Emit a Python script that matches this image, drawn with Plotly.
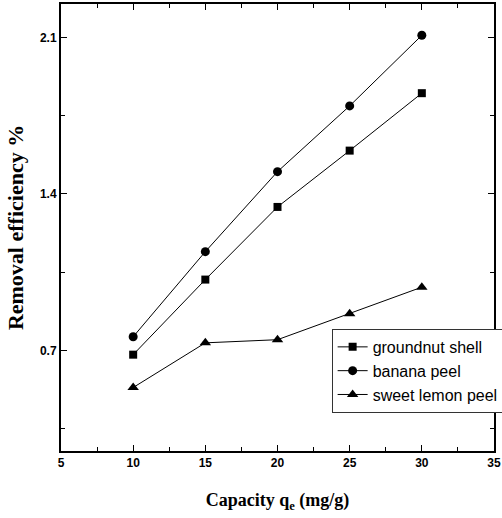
import plotly.graph_objects as go

# Capacity values (mg/g)
capacity = [10, 15, 20, 25, 30]

# Removal efficiency (%) for each adsorbent
groundnut_shell = [0.681, 1.017, 1.342, 1.594, 1.851]
banana_peel = [0.761, 1.142, 1.500, 1.794, 2.110]
sweet_lemon_peel = [0.534, 0.734, 0.748, 0.864, 0.983]

x_ticks = [5, 10, 15, 20, 25, 30, 35]
y_ticks = [0.7, 1.4, 2.1]

series = [
    ("groundnut shell", groundnut_shell, "square", 8),
    ("banana peel", banana_peel, "circle", 9),
    ("sweet lemon peel", sweet_lemon_peel, "triangle-up", 10),
]

fig = go.Figure()
for name, values, symbol, size in series:
    fig.add_trace(go.Scatter(
        x=capacity, y=values, name=name, mode="lines+markers",
        line=dict(color="black", width=1),
        marker=dict(symbol=symbol, size=size, color="black"),
    ))

sans = "Liberation Sans, Arial, sans-serif"
serif = "Liberation Serif, Times New Roman, serif"
tick_font = dict(family=sans, size=12, color="black", weight="bold")

fig.update_layout(
    width=502, height=518,
    margin=dict(l=61, r=8, t=4, b=67, autoexpand=False),
    plot_bgcolor="white", paper_bgcolor="white",
    showlegend=True,
    legend=dict(
        x=0.625, y=0.273, xanchor="left", yanchor="top",
        bgcolor="white", bordercolor="#333", borderwidth=1,
        font=dict(family=sans, size=16, color="black"),
        tracegroupgap=0, itemwidth=30,
    ),
)

fig.update_xaxes(
    range=[5, 35], tickvals=x_ticks, ticktext=[str(v) for v in x_ticks],
    ticks="inside", ticklen=6, tickwidth=1, tickcolor="black",
    minor=dict(dtick=2.5, tick0=5, ticks="inside", ticklen=4, tickcolor="black"),
    showline=True, linewidth=2, linecolor="black", mirror="allticks",
    showgrid=False, zeroline=False,
    tickfont=tick_font,
    title=dict(text="<b>Capacity q<sub>e</sub> (mg/g)</b>",
               font=dict(family=serif, size=18, color="black"), standoff=24),
)
fig.update_yaxes(
    range=[0.25, 2.25], tickvals=y_ticks, ticktext=[str(v) for v in y_ticks],
    ticks="inside", ticklen=6, tickwidth=1, tickcolor="black",
    minor=dict(dtick=0.35, tick0=0.35, ticks="inside", ticklen=4, tickcolor="black"),
    showline=True, linewidth=2, linecolor="black", mirror="allticks",
    showgrid=False, zeroline=False,
    tickfont=tick_font,
    title=dict(text="<b>Removal efficiency %</b>",
               font=dict(family=serif, size=22, color="black"), standoff=10),
)

fig.write_html("out.html")
